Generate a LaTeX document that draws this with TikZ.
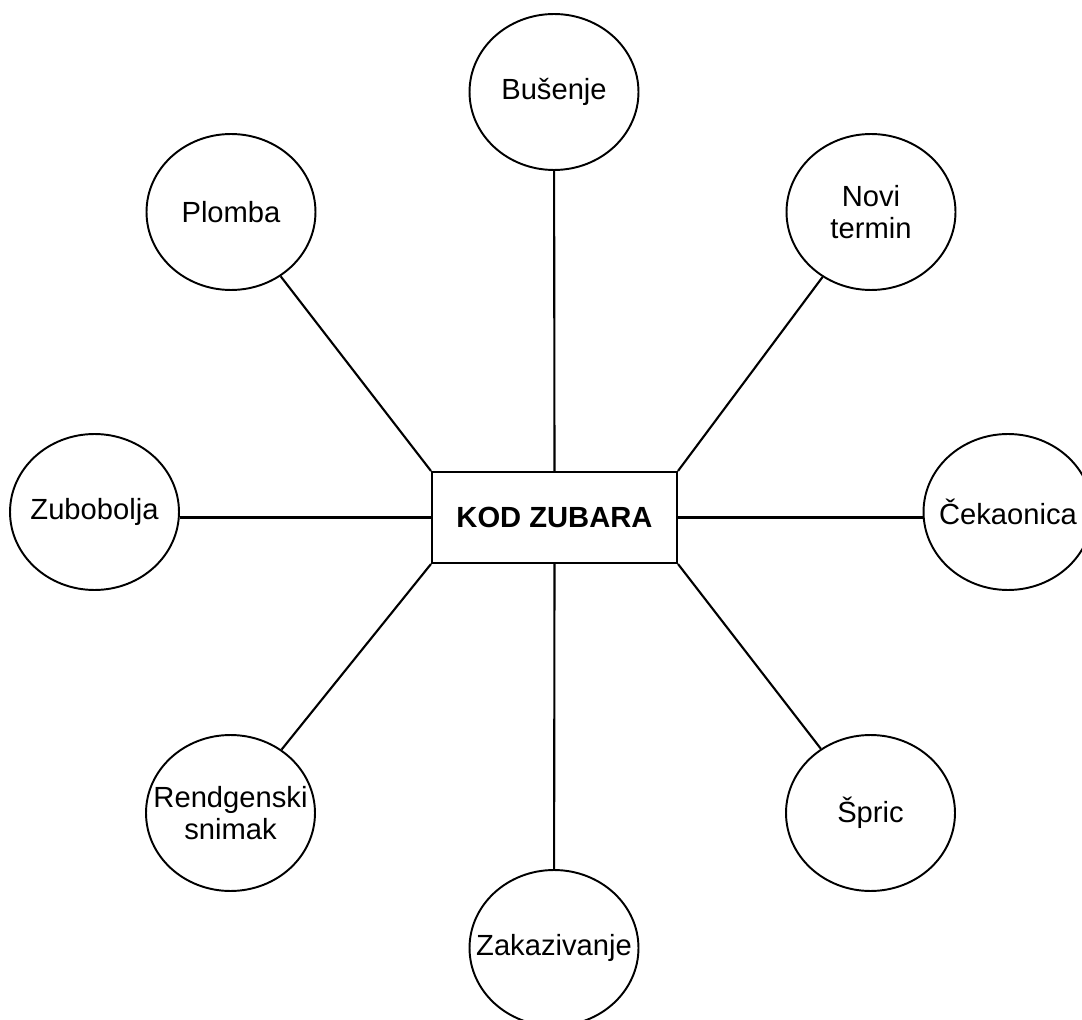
\documentclass[tikz,border=0pt]{standalone}
\usepackage{fontspec}
\setmainfont{Liberation Sans}
\usepackage{tikz}
\usetikzlibrary{shapes.geometric}

\begin{document}
\begin{tikzpicture}[x=0.02cm, y=-0.02cm, line width=1.2pt,
    topic/.style={ellipse, draw, line width=1.1pt, inner sep=-12pt, minimum width=3.38cm, minimum height=3.12cm, align=center, font=\fontsize{16.6}{18.5}\selectfont},
    hub/.style={rectangle, draw, minimum width=4.9cm, minimum height=1.82cm, font=\fontsize{16.6}{19}\selectfont\bfseries}]
    \useasboundingbox (0,0) rectangle (1082,1020);

    \node[hub] (kod) at (554.5,517.5) {KOD ZUBARA};

    \node[topic] (busenje) at (554,92) {Bušenje};
    \node[topic] (plomba) at (231,212) {Plomba};
    \node[topic] (novi) at (871,212) {Novi\\termin};
    \node[topic] (zubobolja) at (94.5,512) {Zubobolja};
    \node[topic] (cekaonica) at (1008,512) {Čekaonica};
    \node[topic] (rendgen) at (230.5,813) {Rendgenski\\snimak};
    \node[topic] (spric) at (870.5,813) {Špric};
    \node[topic] (zakazivanje) at (554,948) {Zakazivanje};

    \draw (kod.north) -- (busenje);
    \draw (kod.south) -- (zakazivanje);
    \draw (kod.north west) -- (plomba);
    \draw (kod.north east) -- (novi);
    \draw (kod.south west) -- (rendgen);
    \draw (kod.south east) -- (spric);
    \draw (kod.west) -- (kod.west -| zubobolja.east);
    \draw (kod.east) -- (kod.east -| cekaonica.west);
\end{tikzpicture}
\end{document}
